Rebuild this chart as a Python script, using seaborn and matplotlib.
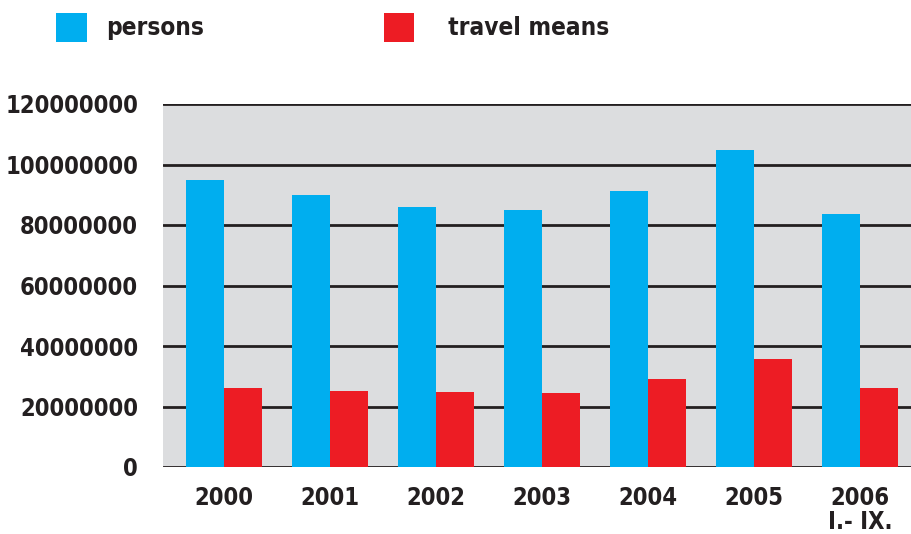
import matplotlib
matplotlib.use("Agg")
import matplotlib.pyplot as plt
import seaborn as sns
import pandas as pd

years = ["2000", "2001", "2002", "2003", "2004", "2005", "2006\nI.- IX."]
persons = [95000000, 90000000, 86000000, 85000000, 91200000, 104800000, 83600000]
travel_means = [26200000, 25200000, 24900000, 24500000, 29100000, 35700000, 26200000]
series_names = ["persons", "travel means"]
yticks = [0, 20000000, 40000000, 60000000, 80000000, 100000000, 120000000]

df = pd.DataFrame({
    "year": years * 2,
    "value": persons + travel_means,
    "series": [series_names[0]] * len(years) + [series_names[1]] * len(years),
})

sns.set_style("white")
plt.rcParams["font.family"] = ["DejaVu Sans"]

FS = 17

fig = plt.figure(figsize=(9.12, 5.34), dpi=100)
ax = fig.add_axes([163 / 912, 67 / 534, 1 - 163 / 912, 363 / 534])
ax.set_facecolor("#dcdddf")

sns.barplot(data=df, x="year", y="value", hue="series",
            palette={"persons": "#00aeef", "travel means": "#ed1c24"},
            width=0.717, gap=0, saturation=1, ax=ax, legend=True, zorder=3,
            linewidth=0, edgecolor="none")

ax.set_ylim(0, 120000000)
ax.set_xlim(-0.575, 6.49)
ax.set_yticks(yticks)
ax.set_yticklabels([str(v) for v in yticks])
for y in yticks:
    ax.axhline(y, color="#231f20", lw=2.0, zorder=2)
for s in ax.spines.values():
    s.set_visible(False)
ax.tick_params(axis="both", length=0)
ax.tick_params(axis="y", pad=18)
ax.tick_params(axis="x", pad=14)
for lab in ax.get_yticklabels() + ax.get_xticklabels():
    lab.set_fontfamily("DejaVu Sans")
    lab.set_fontweight("bold")
    lab.set_fontstretch("condensed")
    lab.set_fontsize(FS)
    lab.set_color("#231f20")
for lab in ax.get_xticklabels():
    lab.set_linespacing(1.0)
    lab.set_multialignment("center")
ax.set_xlabel("")
ax.set_ylabel("")

handles, labels = ax.get_legend_handles_labels()
ax.get_legend().remove()
labels = [labels[0], "\u2002\u2009" + labels[1]]
leg = fig.legend(handles, labels, loc="upper left", bbox_to_anchor=(56 / 912, 1 - 13 / 534),
                 ncol=2, frameon=False, handlelength=1.27, handleheight=1.45,
                 handletextpad=0.78, columnspacing=7.4, borderpad=0, borderaxespad=0,
                 prop=dict(family="DejaVu Sans", weight="bold", stretch="condensed", size=17.5))
for t in leg.get_texts():
    t.set_color("#231f20")

fig.savefig("out.png", dpi=100)
